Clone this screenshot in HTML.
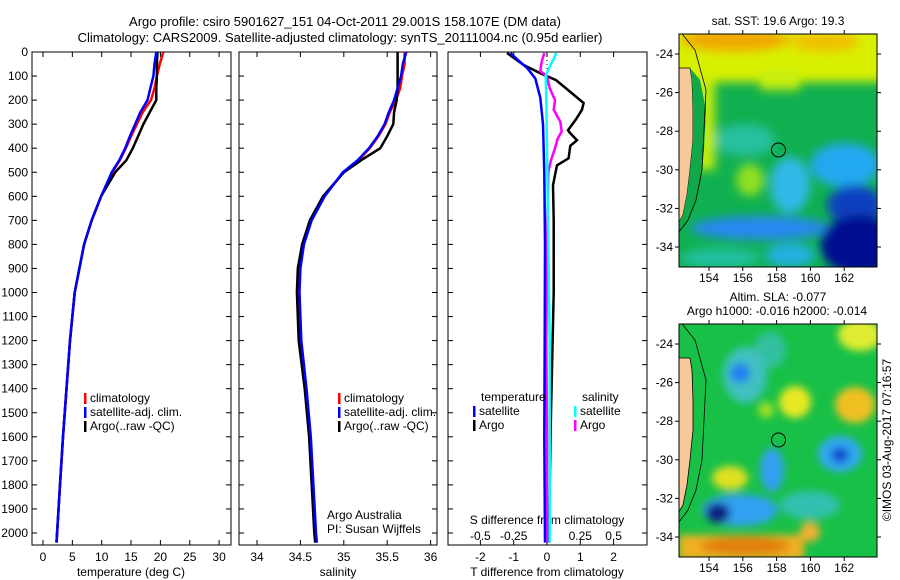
<!DOCTYPE html>
<html><head><meta charset="utf-8"><style>
html,body{margin:0;padding:0;background:#fff;}
svg{display:block;font-family:"Liberation Sans",sans-serif;}
text{font-size:12px;fill:#000;}
</style></head><body>
<svg id="fig" width="900" height="580" viewBox="0 0 900 580" xmlns="http://www.w3.org/2000/svg">
<defs>
<clipPath id="c1"><rect x="679" y="34" width="198" height="233"/></clipPath>
<clipPath id="c2"><rect x="679" y="324" width="198" height="233"/></clipPath>
<clipPath id="cp1"><rect x="32" y="52" width="199" height="493"/></clipPath>
<clipPath id="cp2"><rect x="239" y="52" width="198" height="493"/></clipPath>
<clipPath id="cp3"><rect x="448" y="52" width="199" height="493"/></clipPath>
<filter id="bl" x="-50%" y="-50%" width="200%" height="200%"><feGaussianBlur stdDeviation="5"/></filter>
<filter id="bl2" x="-50%" y="-50%" width="200%" height="200%"><feGaussianBlur stdDeviation="4"/></filter>
</defs>
<text x="345" y="26" text-anchor="middle" style="font-size:13px">Argo profile: csiro 5901627_151 04-Oct-2011 29.001S 158.107E (DM data)</text>
<text x="340" y="42" text-anchor="middle" style="font-size:13px">Climatology: CARS2009. Satellite-adjusted climatology: synTS_20111004.nc (0.95d earlier)</text>
<g id="plots"></g>

<!-- Map 1: SST -->
<g>
<text x="778" y="25" text-anchor="middle">sat. SST: 19.6 Argo: 19.3</text>
<g clip-path="url(#c1)">
<rect x="679" y="34" width="198" height="233" fill="#10b050"/>
<g filter="url(#bl)">
<rect x="660" y="20" width="240" height="62" fill="#d8f000"/>
<rect x="760" y="70" width="40" height="20" fill="#c8ee10"/>
<rect x="660" y="80" width="55" height="90" fill="#c0ec10"/>
<ellipse cx="735" cy="40" rx="55" ry="12" fill="#f0a800"/>
<ellipse cx="825" cy="42" rx="35" ry="10" fill="#f0c000"/>
<ellipse cx="745" cy="140" rx="30" ry="16" fill="#28c0a0"/>
<ellipse cx="750" cy="180" rx="14" ry="16" fill="#90e020"/>
<ellipse cx="790" cy="185" rx="20" ry="28" fill="#30b8e8"/>
<ellipse cx="845" cy="165" rx="35" ry="22" fill="#20a8f0"/>
<ellipse cx="760" cy="228" rx="70" ry="12" fill="#2888f0"/>
<ellipse cx="790" cy="255" rx="25" ry="12" fill="#20b0e0"/>
<ellipse cx="855" cy="205" rx="28" ry="20" fill="#1040c0"/>
<ellipse cx="860" cy="245" rx="40" ry="30" fill="#001090"/>
<ellipse cx="720" cy="258" rx="40" ry="10" fill="#20c0a0"/>
</g>
<polygon points="679,68 690,68 692,80 693,110 693,140 690,170 687,195 683,215 679,222" fill="#f8c898" stroke="#000" stroke-width="0.8"/>
<polygon points="690,68 700,80 706,110 704,150 700,190 694,210 683,228 679,232 679,222 683,215 687,195 690,170 693,140 693,110 692,80" fill="#10a848"/>
<polyline points="679,30 695,50 706,90 704,130 702,170 696,200 688,220 679,232" fill="none" stroke="#000" stroke-width="0.8"/>
</g>
<circle cx="778.5" cy="150" r="7" fill="none" stroke="#000" stroke-width="1"/>
<rect x="679" y="34" width="198" height="233" fill="none" stroke="#000" stroke-width="1"/>
</g>

<!-- Map 2: SLA -->
<g>
<text x="778" y="301" text-anchor="middle">Altim. SLA: -0.077</text>
<text x="777" y="315" text-anchor="middle">Argo h1000: -0.016 h2000: -0.014</text>
<g clip-path="url(#c2)">
<rect x="679" y="324" width="198" height="233" fill="#18c048"/>
<g filter="url(#bl2)">
<ellipse cx="860" cy="335" rx="22" ry="16" fill="#e0ec30"/>
<ellipse cx="770" cy="350" rx="16" ry="18" fill="#30c0a0"/>
<ellipse cx="745" cy="375" rx="22" ry="28" fill="#40c0c0"/>
<ellipse cx="740" cy="373" rx="10" ry="10" fill="#2080f0"/>
<ellipse cx="766" cy="410" rx="8" ry="8" fill="#a0e020"/>
<ellipse cx="795" cy="402" rx="16" ry="16" fill="#e8e820"/>
<ellipse cx="855" cy="405" rx="20" ry="18" fill="#f0c020"/>
<ellipse cx="840" cy="454" rx="22" ry="18" fill="#30a8f0"/>
<ellipse cx="840" cy="455" rx="9" ry="8" fill="#1050d0"/>
<ellipse cx="772" cy="470" rx="12" ry="22" fill="#30a0f0"/>
<ellipse cx="730" cy="478" rx="18" ry="12" fill="#e0e020"/>
<ellipse cx="740" cy="510" rx="38" ry="16" fill="#30a0f0"/>
<ellipse cx="718" cy="513" rx="12" ry="10" fill="#102080"/>
<ellipse cx="810" cy="505" rx="30" ry="14" fill="#30c0b0"/>
<rect x="679" y="535" width="125" height="25" fill="#f0b020"/>
<ellipse cx="745" cy="546" rx="45" ry="9" fill="#e08010"/>
<ellipse cx="810" cy="532" rx="10" ry="10" fill="#f0b030"/>
</g>
<polygon points="679,358 690,358 692,370 693,400 693,430 690,460 687,485 683,505 679,512" fill="#f8c898" stroke="#000" stroke-width="0.8"/>
<polyline points="679,320 695,340 706,380 704,420 702,460 696,490 688,510 679,522" fill="none" stroke="#000" stroke-width="0.8"/>
</g>
<circle cx="778.5" cy="440" r="7" fill="none" stroke="#000" stroke-width="1"/>
<rect x="679" y="324" width="198" height="233" fill="none" stroke="#000" stroke-width="1"/>
<text transform="translate(891,440) rotate(-90)" text-anchor="middle">©IMOS 03-Aug-2017 07:16:57</text>
</g>
<g id="mapaxes"></g>
</svg>
<script>
// ---- data ----
const depthsTS = [0,50,100,150,200,250,300,350,400,450,500,600,700,800,900,1000,1200,1400,1600,1800,2000,2040];
const tempArgo = [19.5,19.4,19.4,19.3,19.3,18.2,17.1,16.2,15.3,14.2,12.3,9.9,8.3,7.0,6.2,5.4,4.6,4.0,3.4,2.9,2.4,2.3];
const tempClim = [20.5,19.9,19.4,19.0,18.4,17.0,16.0,15.0,14.1,13.1,11.8,9.9,8.3,7.0,6.2,5.4,4.6,4.0,3.4,2.9,2.4,2.3];
const tempSat  = [19.3,19.0,18.8,18.3,17.8,16.6,15.7,14.8,14.0,13.0,11.7,9.9,8.3,7.0,6.2,5.4,4.6,4.0,3.4,2.9,2.4,2.3];
const salArgo = [35.62,35.62,35.62,35.62,35.61,35.58,35.57,35.5,35.42,35.2,35.0,34.76,34.61,34.52,34.47,34.46,34.48,34.55,34.6,34.63,34.66,34.67];
const salClim = [35.7,35.7,35.67,35.65,35.6,35.53,35.48,35.4,35.3,35.17,35.0,34.77,34.62,34.53,34.49,34.48,34.5,34.56,34.61,34.64,34.67,34.68];
const salSat  = [35.72,35.68,35.66,35.62,35.58,35.52,35.47,35.39,35.29,35.16,34.99,34.78,34.63,34.54,34.5,34.49,34.51,34.57,34.62,34.65,34.68,34.69];
const dTArgoDepth = [4,54,88,117,158,212,240,280,325,338,367,390,442,471,554,700,1000,1500,2040];
const dTArgo = [-1.2,-0.7,-0.2,0.27,0.63,1.1,1.05,0.87,0.63,0.7,0.9,0.7,0.65,0.3,0.18,0.2,0.2,0.12,0.05];
const dTSatDepth = [4,30,66,110,190,300,500,800,1200,1600,2040];
const dTSat = [-1.1,-0.9,-0.6,-0.35,-0.2,-0.12,-0.08,-0.06,-0.07,-0.08,-0.06];
const dSArgoDepth = [4,40,80,100,150,200,240,290,330,360,400,450,500,800,1200,1600,2040];
const dSArgo = [-0.02,-0.04,-0.05,0.0,0.02,0.06,0.05,0.1,0.11,0.08,0.06,0.03,0.01,0.0,-0.005,0.0,0.0];
const dSSatDepth = [4,30,60,100,200,400,800,1200,1600,2040];
const dSSat = [0.07,0.05,0.02,-0.01,-0.005,0.0,0.01,0.02,0.02,0.02];
const depthTicks = [0,100,200,300,400,500,600,700,800,900,1000,1100,1200,1300,1400,1500,1600,1700,1800,1900,2000];
const tTicks = [0,5,10,15,20,25,30];
const sTicks = [34,34.5,35,35.5,36];
const dTTicks = [-2,-1,0,1,2];
const dSTicks = [-0.5,-0.25,0,0.25,0.5];
const dSTickLabels = ["-0.5","-0.25","0","0.25","0.5"];
const lonTicks = [154,156,158,160,162];
const latTicks = [-24,-26,-28,-30,-32,-34];

// ---- scales ----
const yD = d => 52 + 0.2405*d;
const xT = t => 43 + 5.87*t;
const xS = s => 257 + 86.8*(s-34);
const xDT = v => 547 + 33.3*v;
const xDS = v => 547 + 133.2*v;
const xLon = l => 709 + 16.9*(l-154);
const yLat1 = l => 54 + 19.3*(-24-l);
const yLat2 = l => 344 + 19.3*(-24-l);

const NS = "http://www.w3.org/2000/svg";
const root = document.getElementById('plots');
function mk(tag, attrs, parent) {
  const e = document.createElementNS(NS, tag);
  for (const k in attrs) e.setAttribute(k, attrs[k]);
  (parent || root).appendChild(e);
  return e;
}
function line(xs, ds, xf, color, w, parent, name) {
  const pts = xs.map((v,i) => xf(v).toFixed(1) + ',' + yD(ds[i]).toFixed(1)).join(' ');
  const p = mk('polyline', {points: pts, fill: 'none', stroke: color, 'stroke-width': w}, parent);
  
  
}
function txt(x, y, s, anchor, parent, name) {
  const t = mk('text', {x: x, y: y, 'text-anchor': anchor || 'start'}, parent);
  t.textContent = s;
  
  
  return t;
}
const panels = [[32,231],[239,437],[448,647]];
panels.forEach((p, i) => {
  const g = mk('g', {});
  
  
  mk('rect', {x: p[0], y: 52, width: p[1]-p[0], height: 493, fill: 'none', stroke: '#000', 'stroke-width': 1}, g);
  depthTicks.forEach(d => {
    mk('line', {x1: p[0], x2: p[0]+5, y1: yD(d), y2: yD(d), stroke: '#000'}, g);
    mk('line', {x1: p[1]-5, x2: p[1], y1: yD(d), y2: yD(d), stroke: '#000'}, g);
  });
});
depthTicks.forEach(d => {
  txt(28, yD(d)+4, String(d), 'end', root, 'depth-tick-label');
});
function xticks(ticks, xf, labels, nameBase) {
  ticks.forEach((t, i) => {
    mk('line', {x1: xf(t), x2: xf(t), y1: 52, y2: 57, stroke: '#000'});
    mk('line', {x1: xf(t), x2: xf(t), y1: 540, y2: 545, stroke: '#000'});
    txt(xf(t), 561, labels ? labels[i] : String(t), 'middle', root, nameBase);
  });
}
xticks(tTicks, xT, null, 'temperature-tick-label');
xticks(sTicks, xS, null, 'salinity-tick-label');
xticks(dTTicks, xDT, null, 'dt-tick-label');
dSTicks.forEach((t,i) => txt(xDS(t), 540, dSTickLabels[i], 'middle', root, 'ds-tick-label'));
txt(131, 576, 'temperature (deg C)', 'middle', root, 'x-axis-title-temperature');
txt(338, 576, 'salinity', 'middle', root, 'x-axis-title-salinity');
txt(547, 576, 'T difference from climatology', 'middle', root, 'x-axis-title-t-diff');
txt(547, 524, 'S difference from climatology', 'middle', root, 'x-axis-title-s-diff');
txt(327, 519, 'Argo Australia', 'start', root, 'credit-argo-australia');
txt(327, 533, 'PI: Susan Wijffels', 'start', root, 'credit-pi');

const g1 = mk('g', {'clip-path': 'url(#cp1)'});
line(tempClim, depthsTS, xT, '#f00', 2.5, g1, 'temperature-climatology-line');
line(tempArgo, depthsTS, xT, '#000', 2.5, g1, 'temperature-argo-line');
line(tempSat, depthsTS, xT, '#00f', 2.5, g1, 'temperature-satellite-line');
const g2 = mk('g', {'clip-path': 'url(#cp2)'});
line(salClim, depthsTS, xS, '#f00', 2.5, g2, 'salinity-climatology-line');
line(salArgo, depthsTS, xS, '#000', 2.5, g2, 'salinity-argo-line');
line(salSat, depthsTS, xS, '#00f', 2.5, g2, 'salinity-satellite-line');
const g3 = mk('g', {'clip-path': 'url(#cp3)'});
const zl = mk('line', {x1: 547, x2: 547, y1: 52, y2: 165, stroke: '#000', 'stroke-dasharray': '1,3'}, g3);


line(dTArgo, dTArgoDepth, xDT, '#000', 2.5, g3, 'dt-argo-line');
line(dSArgo, dSArgoDepth, xDS, '#f0f', 2.5, g3, 'ds-argo-line');
line(dSSat, dSSatDepth, xDS, '#0ff', 2.5, g3, 'ds-satellite-line');
line(dTSat, dTSatDepth, xDT, '#00f', 2.5, g3, 'dt-satellite-line');

function legend(x, y, label, color, name) {
  const r = mk('rect', {x: x, y: y-9, width: 2.5, height: 11, fill: color});
  
  
  txt(x+6, y, label, 'start', root, name);
}
legend(84, 402, 'climatology', '#f00', 'legend-climatology');
legend(84, 416, 'satellite-adj. clim.', '#00f', 'legend-satellite');
legend(84, 430, 'Argo(..raw -QC)', '#000', 'legend-argo');
legend(338, 402, 'climatology', '#f00', 'legend-climatology-s');
legend(338, 416, 'satellite-adj. clim.', '#00f', 'legend-satellite-s');
legend(338, 430, 'Argo(..raw -QC)', '#000', 'legend-argo-s');
txt(481, 401, 'temperature', 'start', root, 'legend-temperature-heading');
txt(582, 401, 'salinity', 'start', root, 'legend-salinity-heading');
legend(473, 415, 'satellite', '#00f', 'legend-t-satellite');
legend(473, 429, 'Argo', '#000', 'legend-t-argo');
legend(574, 415, 'satellite', '#0ff', 'legend-s-satellite');
legend(574, 429, 'Argo', '#f0f', 'legend-s-argo');

// map axes
const ma = document.getElementById('mapaxes');
[[34,267,yLat1,282],[324,557,yLat2,572]].forEach(m => {
  lonTicks.forEach(l => {
    mk('line', {x1: xLon(l), x2: xLon(l), y1: m[0]-4, y2: m[0], stroke: '#000'}, ma);
    mk('line', {x1: xLon(l), x2: xLon(l), y1: m[1], y2: m[1]+4, stroke: '#000'}, ma);
    txt(xLon(l), m[3], String(l), 'middle', ma, 'longitude-tick-label');
  });
  latTicks.forEach(l => {
    mk('line', {x1: 675, x2: 679, y1: m[2](l), y2: m[2](l), stroke: '#000'}, ma);
    mk('line', {x1: 877, x2: 881, y1: m[2](l), y2: m[2](l), stroke: '#000'}, ma);
    txt(673, m[2](l)+4, String(l), 'end', ma, 'latitude-tick-label');
  });
});
</script>
</body></html>
